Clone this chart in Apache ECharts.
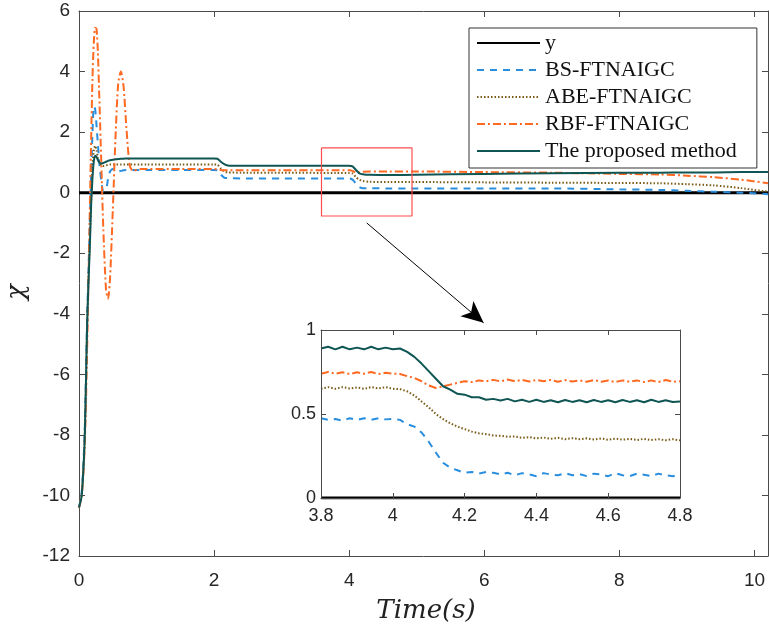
<!DOCTYPE html>
<html>
<head>
<meta charset="utf-8">
<title>chi response</title>
<script src="https://cdn.jsdelivr.net/npm/echarts@6/dist/echarts.min.js"></script>
<style>
    html, body {margin: 0; padding: 0; background: #fff;}
    #chart {width: 769px; height: 630px;}
</style>
</head>
<body>
<div id="chart"></div>
<script>
// 主图时间轴
var tMain = [0, 0.04, 0.08, 0.1, 0.12, 0.14, 0.16, 0.18, 0.2, 0.22, 0.24, 0.26, 0.28, 0.3, 0.33, 0.36, 0.4, 0.43, 0.46, 0.5,
    0.54, 0.58, 0.62, 0.66, 0.7, 0.75, 0.8, 0.9, 1.0, 1.5, 2.0, 2.05, 2.1, 2.15, 2.2, 2.4, 3.0, 3.8, 4.0, 4.05,
    4.1, 4.15, 4.2, 4.3, 4.6, 5, 6, 7, 8, 8.6, 9.0, 9.4, 9.8, 10.2];

var bsMain = [-10.4, -9.9, -8.2, -6.4, -4.2, -2.6, -1.0, 0.6, 2.0, 2.85, 2.75, 2.2, 1.6, 1.0, 0.4, 0.05, 0.1, 0.45, 0.7, 0.78,
    0.72, 0.7, 0.72, 0.74, 0.75, 0.75, 0.75, 0.75, 0.75, 0.75, 0.75, 0.74, 0.6, 0.5, 0.48, 0.47, 0.47, 0.47, 0.47, 0.43,
    0.3, 0.19, 0.15, 0.15, 0.14, 0.14, 0.14, 0.14, 0.11, 0.09, 0.06, 0.03, 0.0, -0.05];

var abeMain = [-10.4, -10.0, -8.4, -6.6, -4.4, -2.9, -1.6, -0.2, 0.9, 1.4, 1.55, 1.4, 1.15, 1.0, 0.9, 0.88, 0.9, 0.92, 0.93, 0.93,
    0.93, 0.93, 0.93, 0.93, 0.93, 0.93, 0.93, 0.93, 0.93, 0.93, 0.93, 0.92, 0.8, 0.7, 0.67, 0.66, 0.66, 0.65, 0.65, 0.63,
    0.51, 0.43, 0.39, 0.36, 0.35, 0.35, 0.34, 0.33, 0.32, 0.31, 0.28, 0.24, 0.15, 0.03];

var rbfMain = [-10.4, -10.0, -8.6, -7.2, -5.2, -3.0, -0.6, 1.8, 3.8, 5.0, 5.45, 5.4, 4.6, 3.2, 1.0, -1.2, -3.2, -3.5, -2.8, -0.6,
    1.8, 3.6, 4.0, 3.5, 2.2, 0.9, 0.72, 0.78, 0.78, 0.78, 0.78, 0.77, 0.75, 0.74, 0.74, 0.74, 0.74, 0.74, 0.74, 0.72,
    0.66, 0.67, 0.69, 0.7, 0.7, 0.7, 0.68, 0.66, 0.62, 0.6, 0.56, 0.51, 0.43, 0.31];

var propMain = [-10.4, -10.0, -8.4, -6.6, -4.4, -3.0, -1.8, -0.4, 0.5, 1.05, 1.22, 1.18, 1.08, 1.0, 0.96, 0.98, 1.02, 1.05, 1.07, 1.09,
    1.1, 1.11, 1.12, 1.12, 1.13, 1.13, 1.13, 1.13, 1.13, 1.13, 1.13, 1.12, 1.02, 0.94, 0.9, 0.89, 0.89, 0.89, 0.89, 0.87,
    0.75, 0.64, 0.61, 0.59, 0.58, 0.59, 0.62, 0.64, 0.66, 0.66, 0.67, 0.67, 0.68, 0.68];

// 局部放大 3.8~4.8, 步长0.02
var tInset = [];
for (var i = 0; i <= 50; i++) {
    tInset.push(+(3.8 + i * 0.02).toFixed(2));
}
var bsInset = [0.475, 0.465, 0.47, 0.46, 0.475, 0.465, 0.475, 0.465, 0.475, 0.468, 0.47, 0.465, 0.44, 0.425, 0.39, 0.335, 0.27,
    0.21, 0.18, 0.165, 0.15, 0.155, 0.145, 0.155, 0.15, 0.14, 0.15, 0.135, 0.148, 0.14, 0.13, 0.148, 0.14, 0.135,
    0.148, 0.135, 0.142, 0.13, 0.145, 0.14, 0.13, 0.148, 0.135, 0.13, 0.145, 0.138, 0.13, 0.145, 0.135, 0.13, 0.14];
var abeInset = [0.65, 0.66, 0.65, 0.66, 0.652, 0.658, 0.65, 0.66, 0.652, 0.66, 0.65, 0.648, 0.635, 0.61, 0.575, 0.54, 0.5,
    0.47, 0.445, 0.425, 0.41, 0.395, 0.385, 0.38, 0.372, 0.37, 0.365, 0.366, 0.358, 0.362, 0.355, 0.36, 0.352, 0.358,
    0.35, 0.356, 0.35, 0.355, 0.348, 0.354, 0.347, 0.353, 0.347, 0.352, 0.345, 0.352, 0.345, 0.35, 0.344, 0.35, 0.343];
var rbfInset = [0.74, 0.75, 0.74, 0.748, 0.738, 0.748, 0.74, 0.75, 0.738, 0.745, 0.74, 0.738, 0.725, 0.715, 0.695, 0.67, 0.655,
    0.665, 0.675, 0.685, 0.695, 0.69, 0.7, 0.695, 0.703, 0.694, 0.705, 0.695, 0.703, 0.693, 0.703, 0.695, 0.702, 0.692,
    0.702, 0.693, 0.7, 0.692, 0.702, 0.692, 0.7, 0.69, 0.7, 0.692, 0.7, 0.69, 0.7, 0.69, 0.702, 0.692, 0.695];
var propInset = [0.89, 0.9, 0.885, 0.9, 0.885, 0.895, 0.885, 0.9, 0.885, 0.895, 0.885, 0.89, 0.87, 0.84, 0.8, 0.755, 0.71,
    0.665, 0.645, 0.62, 0.615, 0.6, 0.6, 0.585, 0.59, 0.58, 0.59, 0.575, 0.585, 0.572, 0.585, 0.572, 0.582, 0.57,
    0.583, 0.572, 0.582, 0.57, 0.583, 0.572, 0.582, 0.57, 0.583, 0.572, 0.582, 0.57, 0.585, 0.572, 0.582, 0.572, 0.575];

var names = ['y', 'BS-FTNAIGC', 'ABE-FTNAIGC', 'RBF-FTNAIGC', 'The proposed method'];
var xTicksMain = [0, 2, 4, 6, 8, 10];
var yTicksInset = [0, 0.5, 1];

// 红框和箭头 (数据坐标)
var boxX = [3.59, 4.93];
var boxY = [-0.77, 1.48];
var arrowFrom = [4.26, -1.0];
var arrowTo = [5.99, -4.3];

var styles = {
    'y': {color: '#000', width: 3, type: 'solid'},
    'BS-FTNAIGC': {color: '#2a8ede', width: 2, type: [7, 6]},
    'ABE-FTNAIGC': {color: '#7b5a17', width: 2, type: [1.5, 2]},
    'RBF-FTNAIGC': {color: '#ff6a22', width: 2, type: [8, 3, 2, 3]},
    'The proposed method': {color: '#0e5553', width: 2, type: 'solid'}
};

function pairs(t, v) {
    var out = [];
    for (var k = 0; k < t.length; k++) out.push([t[k], v[k]]);
    return out;
}

function lineSeries(name, data, axisIdx) {
    var s = styles[name];
    var zBase = axisIdx === 0 ? 2 : 10;
    return {
        name: name, type: 'line', data: data, symbol: 'none',
        xAxisIndex: axisIdx, yAxisIndex: axisIdx,
        smooth: axisIdx === 0 ? 0.25 : false,
        color: s.color,
        lineStyle: {color: s.color, width: s.width, type: s.type},
        emphasis: {disabled: true},
        animation: false,
        z: name === 'y' ? zBase : zBase + 1
    };
}

var axisCol = '#4a4a4a';
var tickFont = {color: '#262626', fontSize: 19, fontFamily: 'Liberation Sans'};

function valAxis(o) {
    var base = {
        type: 'value',
        splitLine: {show: false},
        axisLine: {show: true, onZero: false, lineStyle: {color: axisCol, width: 1}},
        axisTick: {show: true, inside: true, length: 6, lineStyle: {color: axisCol}},
        axisLabel: {show: false}
    };
    for (var key in o) base[key] = o[key];
    return base;
}

var chart = echarts.init(document.getElementById('chart'));

var series = [];
series.push(lineSeries('y', [[0, 0], [10.2, 0]], 0));
series.push(lineSeries('BS-FTNAIGC', pairs(tMain, bsMain), 0));
series.push(lineSeries('ABE-FTNAIGC', pairs(tMain, abeMain), 0));
series.push(lineSeries('RBF-FTNAIGC', pairs(tMain, rbfMain), 0));
series.push(lineSeries('The proposed method', pairs(tMain, propMain), 0));

series.push(lineSeries('y', [[3.8, 0], [4.8, 0]], 2));
series.push(lineSeries('BS-FTNAIGC', pairs(tInset, bsInset), 2));
series.push(lineSeries('ABE-FTNAIGC', pairs(tInset, abeInset), 2));
series.push(lineSeries('RBF-FTNAIGC', pairs(tInset, rbfInset), 2));
series.push(lineSeries('The proposed method', pairs(tInset, propInset), 2));

// 放大区域的红框 + 箭头
series.push({
    name: 'zoomBox', type: 'line', symbol: 'none', xAxisIndex: 0, yAxisIndex: 0,
    data: [[boxX[0], boxY[1]], [boxX[1], boxY[1]], [boxX[1], boxY[0]], [boxX[0], boxY[0]], [boxX[0], boxY[1]]],
    lineStyle: {color: '#ff4d4d', width: 1.2}, animation: false, silent: true,
    markLine: {
        silent: true, animation: false,
        symbol: ['none', 'arrow'], symbolSize: [15, 22],
        label: {show: false},
        lineStyle: {color: '#000', width: 1, type: 'solid'},
        data: [[{coord: arrowFrom}, {coord: arrowTo}]]
    }
});

chart.setOption({
    backgroundColor: '#fff',
    animation: false,
    grid: [
        {left: 79, right: 1, top: 11, bottom: 74},
        {left: 321, top: 330, width: 359, height: 168, show: true, backgroundColor: '#fff', borderWidth: 0, z: 5}
    ],
    legend: {
        data: names,
        orient: 'vertical',
        left: 469, top: 28,
        padding: [4, 20, 6, 7],
        itemWidth: 63, itemHeight: 10, itemGap: 5,
        itemStyle: {opacity: 0},
        backgroundColor: '#fff',
        borderColor: '#333', borderWidth: 1,
        selectedMode: false,
        textStyle: {fontFamily: 'Liberation Serif', fontSize: 22, lineHeight: 22, color: '#111'}
    },
    xAxis: [
        valAxis({gridIndex: 0, min: 0, max: 10.2, interval: 2, position: 'bottom',
            axisLabel: {show: true, margin: 15, showMaxLabel: false, formatter: function (v) {
                return xTicksMain.indexOf(v) >= 0 ? String(v) : '';
            }, color: tickFont.color, fontSize: tickFont.fontSize, fontFamily: tickFont.fontFamily}}),
        valAxis({gridIndex: 0, min: 0, max: 10.2, interval: 2, position: 'top'}),
        valAxis({gridIndex: 1, min: 3.8, max: 4.8, interval: 0.2, position: 'bottom', z: 12,
            axisTick: {show: true, inside: true, length: 5, lineStyle: {color: axisCol}},
            axisLabel: {show: true, margin: 9, formatter: function (v) {
                return String(+v.toFixed(1));
            }, color: tickFont.color, fontSize: 18, fontFamily: tickFont.fontFamily}}),
        valAxis({gridIndex: 1, min: 3.8, max: 4.8, interval: 0.2, position: 'top', z: 12,
            axisTick: {show: true, inside: true, length: 5, lineStyle: {color: axisCol}}})
    ],
    yAxis: [
        valAxis({gridIndex: 0, min: -12, max: 6, interval: 2, position: 'left',
            axisLabel: {show: true, margin: 9,
                color: tickFont.color, fontSize: tickFont.fontSize, fontFamily: tickFont.fontFamily}}),
        valAxis({gridIndex: 0, min: -12, max: 6, interval: 2, position: 'right'}),
        valAxis({gridIndex: 1, min: 0, max: 1, interval: 0.5, position: 'left', z: 12,
            axisTick: {show: true, inside: true, length: 5, lineStyle: {color: axisCol}},
            axisLabel: {show: true, margin: 5, formatter: function (v) {
                return yTicksInset.indexOf(v) >= 0 ? String(v) : '';
            }, color: tickFont.color, fontSize: 18, fontFamily: tickFont.fontFamily}}),
        valAxis({gridIndex: 1, min: 0, max: 1, interval: 0.5, position: 'right', z: 12,
            axisTick: {show: true, inside: true, length: 5, lineStyle: {color: axisCol}}})
    ],
    graphic: [
        {
            type: 'text', x: 17, y: 292, rotation: Math.PI / 2,
            style: {text: 'χ', fontFamily: 'DejaVu Serif', fontStyle: 'italic', fontSize: 26,
                fill: '#222', align: 'center', verticalAlign: 'middle'}
        },
        {
            type: 'text', x: 426, y: 611,
            style: {text: 'Time(s)', fontFamily: 'DejaVu Serif', fontStyle: 'italic', fontSize: 26,
                fill: '#222', align: 'center', verticalAlign: 'middle'}
        }
    ],
    series: series
});
</script>
</body>
</html>
